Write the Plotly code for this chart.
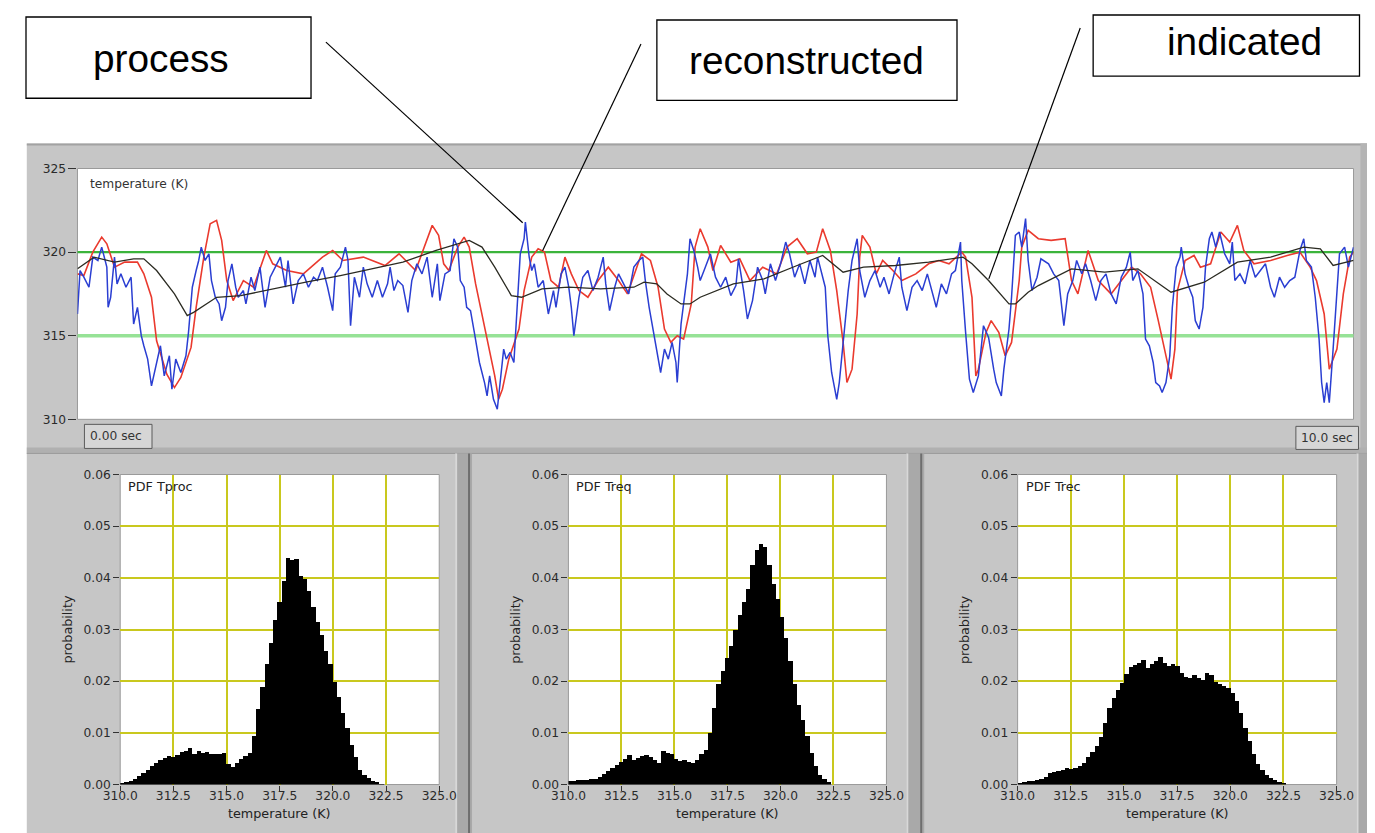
import plotly.graph_objects as go

# ---------------- data ----------------
t_process = [0.00,0.02,0.05,0.09,0.12,0.16,0.19,0.23,0.24,0.26,
             0.29,0.31,0.34,0.38,0.42,0.44,0.47,0.50,0.52,0.55,
             0.58,0.62,0.65,0.68,0.72,0.74,0.77,0.81,0.85,0.87,
             0.90,0.93,0.95,0.97,1.00,1.03,1.05,1.08,1.11,1.13,
             1.16,1.18,1.21,1.24,1.26,1.30,1.32,1.36,1.39,1.43,
             1.47,1.51,1.55,1.59,1.63,1.65,1.69,1.73,1.77,1.81,
             1.85,1.88,1.92,1.96,2.00,2.02,2.06,2.10,2.12,2.14,
             2.17,2.21,2.24,2.27,2.31,2.35,2.39,2.43,2.45,2.48,
             2.51,2.55,2.59,2.62,2.66,2.70,2.74,2.78,2.82,2.84,
             2.88,2.92,2.95,2.98,3.00,3.03,3.05,3.08,3.11,3.13,
             3.15,3.19,3.21,3.23,3.26,3.29,3.31,3.34,3.36,3.39,
             3.42,3.44,3.47,3.50,3.51,3.54,3.56,3.58,3.61,3.65,
             3.69,3.73,3.75,3.79,3.82,3.85,3.87,3.89,3.93,3.96,
             4.00,4.04,4.08,4.12,4.14,4.17,4.21,4.24,4.28,4.32,
             4.36,4.40,4.43,4.45,4.48,4.51,4.55,4.57,4.60,4.63,
             4.66,4.69,4.70,4.73,4.75,4.78,4.80,4.83,4.86,4.88,
             4.92,4.96,5.00,5.04,5.08,5.12,5.16,5.18,5.22,5.25,
             5.29,5.33,5.37,5.39,5.43,5.47,5.51,5.55,5.58,5.62,
             5.66,5.70,5.74,5.78,5.80,5.83,5.86,5.88,5.91,5.93,
             5.95,5.97,6.00,6.04,6.07,6.11,6.13,6.17,6.21,6.25,
             6.29,6.32,6.36,6.40,6.44,6.46,6.50,6.54,6.58,6.62,
             6.66,6.70,6.73,6.77,6.81,6.85,6.88,6.92,6.93,6.96,
             6.99,7.02,7.06,7.10,7.14,7.18,7.20,7.24,7.26,7.30,
             7.32,7.35,7.38,7.40,7.43,7.45,7.48,7.52,7.55,7.61,
             7.65,7.69,7.73,7.76,7.80,7.83,7.87,7.90,7.94,7.98,
             8.02,8.06,8.10,8.14,8.18,8.22,8.25,8.27,8.31,8.35,
             8.37,8.40,8.43,8.45,8.48,8.50,8.53,8.56,8.58,8.61,
             8.64,8.65,8.68,8.71,8.74,8.76,8.79,8.82,8.84,8.87,
             8.89,8.92,8.95,8.99,9.03,9.05,9.07,9.11,9.15,9.19,
             9.23,9.27,9.31,9.35,9.38,9.42,9.46,9.50,9.54,9.58,
             9.61,9.63,9.67,9.70,9.73,9.75,9.77,9.79,9.81,9.84,
             9.87,9.89,9.93,9.96,10.00]
T_process = [316.3,318.9,318.5,317.9,319.7,319.5,320.3,319.1,316.7,317.3,
             319.7,318.1,318.7,317.9,318.5,315.7,316.7,315.0,314.4,313.6,
             312.0,313.4,314.4,312.6,313.8,311.8,313.6,312.8,313.8,315.2,
             317.9,318.9,319.5,320.3,319.5,319.9,318.3,317.3,316.9,315.9,
             316.7,318.3,319.3,317.9,317.3,317.7,316.9,318.5,317.7,319.1,
             316.7,318.5,319.1,319.7,317.9,319.5,316.9,318.3,318.7,317.9,
             318.5,318.3,319.1,317.9,316.5,318.7,319.1,320.3,319.5,315.6,
             318.5,317.3,319.1,318.1,317.3,318.3,317.3,318.1,319.1,317.7,
             318.3,318.0,316.4,318.3,319.3,318.7,319.7,317.3,319.3,317.1,
             318.7,318.9,320.8,320.3,318.3,317.9,316.7,316.5,315.2,314.2,
             313.4,312.2,311.4,312.6,311.2,310.6,312.2,314.2,313.6,314.0,
             313.4,315.9,319.9,320.8,321.8,319.7,318.9,319.3,317.9,318.3,
             316.3,317.7,316.7,318.7,319.1,317.9,316.7,315.0,317.3,318.5,
             318.9,317.7,318.5,319.7,318.1,316.5,317.9,318.7,318.1,317.5,
             319.1,319.5,319.7,318.3,316.7,315.4,313.8,312.8,314.2,313.6,
             314.6,313.4,312.2,315.7,316.9,318.7,320.8,320.1,319.1,318.3,
             319.1,319.9,318.5,317.9,318.5,317.4,318.0,319.6,317.7,316.0,
             317.1,319.1,318.3,317.5,319.3,318.3,319.3,320.6,319.9,318.5,
             319.3,318.1,319.5,318.5,319.7,318.7,317.9,315.0,312.8,312.0,
             311.2,312.2,314.6,317.7,319.5,320.8,318.9,317.3,318.3,318.9,
             317.9,318.5,317.5,318.7,319.7,317.9,316.5,317.9,318.3,317.7,
             318.7,317.5,316.7,318.1,317.5,318.7,318.9,320.6,318.3,315.2,
             312.4,311.6,312.6,315.6,314.9,313.0,312.2,311.4,313.0,315.4,
             317.3,321.0,321.2,320.3,322.0,319.5,317.7,318.5,319.6,319.3,
             318.7,318.3,315.6,317.5,318.3,319.5,318.7,319.3,318.3,317.1,
             318.3,318.7,317.5,316.9,318.5,319.1,320.0,318.3,318.9,317.5,
             314.8,314.4,313.4,312.2,312.0,311.6,312.2,313.8,316.7,319.1,
             319.7,320.3,318.7,317.9,317.3,315.9,315.4,316.7,319.1,320.8,
             321.2,320.3,321.2,319.9,319.3,320.6,318.3,318.7,318.1,319.5,
             318.5,318.9,319.3,317.9,317.3,318.5,317.9,318.3,318.5,320.1,
             320.8,319.5,319.1,317.3,314.8,312.2,311.0,312.2,311.0,314.2,
             317.5,319.9,320.3,319.1,320.3]

t_reconstructed = [0.00,0.05,0.12,0.19,0.23,0.29,0.37,0.47,0.52,0.58,
                   0.62,0.70,0.76,0.81,0.89,0.93,0.99,1.04,1.09,1.13,
                   1.17,1.22,1.30,1.38,1.48,1.53,1.64,1.77,1.92,2.00,
                   2.08,2.24,2.41,2.52,2.65,2.73,2.78,2.83,2.87,2.91,
                   2.98,3.03,3.07,3.12,3.17,3.22,3.27,3.30,3.33,3.38,
                   3.46,3.50,3.56,3.61,3.66,3.71,3.77,3.82,3.87,3.93,
                   4.00,4.08,4.16,4.24,4.31,4.42,4.49,4.55,4.60,4.65,
                   4.70,4.75,4.81,4.84,4.88,4.94,4.98,5.04,5.12,5.19,
                   5.27,5.37,5.48,5.56,5.64,5.72,5.79,5.84,5.90,5.95,
                   6.00,6.03,6.07,6.11,6.13,6.15,6.21,6.26,6.31,6.39,
                   6.46,6.57,6.67,6.75,6.83,6.93,6.96,7.01,7.04,7.06,
                   7.12,7.16,7.22,7.27,7.32,7.38,7.40,7.45,7.53,7.63,
                   7.74,7.79,7.84,7.92,8.00,8.10,8.18,8.26,8.33,8.41,
                   8.47,8.52,8.57,8.60,8.62,8.68,8.75,8.80,8.88,8.96,
                   9.03,9.09,9.14,9.22,9.35,9.48,9.58,9.66,9.71,9.77,
                   9.81,9.87,9.92,9.97,10.00]
T_reconstructed = [318.7,318.6,320.0,320.9,320.5,319.1,319.4,319.4,318.7,317.3,
                   314.7,312.7,311.9,312.5,314.3,316.7,319.7,321.7,321.9,320.7,
                   318.3,317.1,318.3,317.9,320.1,319.3,318.9,318.7,319.7,320.1,
                   319.5,319.7,319.2,319.9,318.9,320.6,321.6,321.0,319.3,318.9,
                   320.3,320.9,320.3,318.1,316.3,314.6,312.6,311.2,311.8,313.6,
                   315.4,317.7,319.7,320.2,320.0,318.3,317.9,319.7,318.7,317.7,
                   317.3,318.3,319.1,318.3,317.5,319.9,319.5,317.9,315.4,314.6,
                   315.0,314.8,316.9,320.3,321.4,320.3,318.9,320.4,319.4,319.6,
                   318.3,319.1,318.7,320.3,320.8,319.9,320.0,321.4,320.1,317.7,
                   314.6,312.2,313.0,316.3,319.7,321.0,320.3,318.7,319.5,318.9,
                   318.3,318.7,319.3,319.5,319.3,320.0,319.7,317.3,312.6,313.0,
                   315.2,315.9,315.2,313.8,314.6,318.3,320.3,321.3,320.8,320.7,
                   320.8,318.3,317.5,320.1,318.3,317.5,318.3,319.1,318.7,317.9,
                   315.9,314.2,312.4,314.2,317.7,319.5,319.8,319.1,319.3,321.2,
                   320.6,321.6,320.1,319.3,319.5,319.8,320.0,319.1,318.3,316.3,
                   313.0,314.2,317.5,319.7,320.0]

t_indicated = [0.00,0.13,0.29,0.44,0.52,0.62,0.76,0.86,0.91,1.01,
               1.09,1.28,1.53,1.79,2.06,2.31,2.55,2.81,3.07,3.17,
               3.27,3.40,3.48,3.64,3.85,4.10,4.36,4.44,4.54,4.62,
               4.73,4.80,4.88,5.14,5.38,5.64,5.84,6.00,6.16,6.41,
               6.67,6.94,7.01,7.14,7.30,7.35,7.45,7.53,7.71,7.79,
               8.05,8.31,8.57,8.83,9.09,9.35,9.61,9.74,9.84,10.00]
T_indicated = [319.0,319.7,319.4,319.6,319.6,318.9,317.5,316.2,316.4,316.9,
               317.3,317.4,317.8,318.2,318.6,319.0,319.4,320.1,320.7,320.3,
               319.1,317.4,317.3,317.8,317.9,317.8,317.9,318.2,318.1,317.5,
               316.9,316.9,317.3,318.1,318.4,319.2,319.8,318.8,319.1,319.2,
               319.4,319.7,319.3,318.3,316.9,316.9,317.6,318.0,318.7,319.0,
               318.8,319.0,317.6,318.2,319.4,319.7,320.3,320.2,319.2,319.5]

limit_high = 320.0
limit_low = 315.0
temp_ticks = [310, 315, 320, 325]

BIN_START = 310.0
BIN_WIDTH = 0.2
pdf_proc = [0.0003,0.0005,0.0008,0.0012,0.0018,0.0024,0.0029,0.0036,0.0042,0.0048,
            0.0052,0.0056,0.0054,0.0058,0.0064,0.0066,0.0071,0.0060,0.0066,0.0062,
            0.0064,0.0060,0.0061,0.0060,0.0062,0.0040,0.0034,0.0043,0.0050,0.0056,
            0.0062,0.0095,0.0147,0.0190,0.0235,0.0275,0.0320,0.0355,0.0395,0.0440,
            0.0436,0.0438,0.0405,0.0398,0.0375,0.0345,0.0315,0.0290,0.0260,0.0235,
            0.0200,0.0170,0.0140,0.0110,0.0078,0.0055,0.0030,0.0019,0.0014,0.0008,
            0.0005,0.0002]
pdf_req = [0.0007,0.0007,0.0010,0.0010,0.0010,0.0011,0.0012,0.0016,0.0022,0.0027,
           0.0033,0.0038,0.0044,0.0050,0.0059,0.0049,0.0052,0.0057,0.0058,0.0055,
           0.0048,0.0043,0.0065,0.0062,0.0060,0.0050,0.0046,0.0048,0.0045,0.0042,
           0.0049,0.0060,0.0068,0.0100,0.0150,0.0195,0.0220,0.0245,0.0270,0.0300,
           0.0330,0.0355,0.0380,0.0425,0.0455,0.0467,0.0460,0.0425,0.0390,0.0360,
           0.0325,0.0285,0.0240,0.0195,0.0155,0.0125,0.0095,0.0062,0.0036,0.0020,
           0.0012,0.0005]
pdf_rec = [0.0003,0.0005,0.0007,0.0008,0.0010,0.0012,0.0016,0.0023,0.0026,0.0028,
           0.0030,0.0033,0.0031,0.0032,0.0036,0.0042,0.0054,0.0064,0.0076,0.0092,
           0.0120,0.0150,0.0168,0.0184,0.0197,0.0215,0.0228,0.0232,0.0236,0.0242,
           0.0227,0.0234,0.0240,0.0248,0.0236,0.0230,0.0234,0.0230,0.0216,0.0210,
           0.0207,0.0212,0.0208,0.0204,0.0217,0.0212,0.0200,0.0195,0.0192,0.0187,
           0.0178,0.0162,0.0140,0.0110,0.0085,0.0060,0.0040,0.0030,0.0020,0.0014,
           0.0009,0.0006,0.0003]
hist_titles = ["PDF Tproc", "PDF Treq", "PDF Trec"]

# ---------------- layout helpers ----------------
# The photographed page shows the figure slightly shrunk and offset, so the
# reference pixel positions are mapped back through that observed transform.
S = 0.98
OX, OY = 21.2, 15.0
W, H = 1381, 835
def px(x):
    return min(max(((x - OX) / S) / W, 0.0), 1.0)
def py(y):
    return min(max(1 - ((y - OY) / S) / H, 0.0), 1.0)
def fs(size):
    return size / S

UI_FONT = "DejaVu Sans"
CALLOUT_FONT = "Liberation Sans"
GRAY = "#c6c6c6"
DARK_GRAY = "#a9a9a9"
GRID_Y = "#c9c81e"

fig = go.Figure()

# top time plot
fig.add_trace(go.Scatter(x=t_reconstructed, y=T_reconstructed, mode="lines",
                         line=dict(color="#ea3a2e", width=1.6), xaxis="x", yaxis="y",
                         showlegend=False, hoverinfo="skip"))
fig.add_trace(go.Scatter(x=t_process, y=T_process, mode="lines",
                         line=dict(color="#2a3ed2", width=1.5), xaxis="x", yaxis="y",
                         showlegend=False, hoverinfo="skip"))
fig.add_trace(go.Scatter(x=t_indicated, y=T_indicated, mode="lines",
                         line=dict(color="#2b2b22", width=1.3), xaxis="x", yaxis="y",
                         showlegend=False, hoverinfo="skip"))

# histograms
for i, pdf in enumerate([pdf_proc, pdf_req, pdf_rec]):
    centers = [BIN_START + BIN_WIDTH * (k + 0.5) for k in range(len(pdf))]
    fig.add_trace(go.Bar(x=centers, y=pdf, width=BIN_WIDTH,
                         marker=dict(color="black", line=dict(width=0)),
                         xaxis=f"x{i+2}", yaxis=f"y{i+2}", showlegend=False,
                         hoverinfo="skip"))

HIST_PX = [[116, 437], [567, 887], [1019, 1340]]
top_x = [px(73), px(1357)]
top_y = [py(418), py(168)]
hist_x = [[px(a), px(b)] for a, b in HIST_PX]
hist_y = [py(782), py(473)]

tickfont = dict(family=UI_FONT, size=fs(12), color="#2a2a2a")

layout = dict(
    width=W, height=H,
    margin=dict(l=0, r=0, t=0, b=0),
    paper_bgcolor="white", plot_bgcolor="white",
    bargap=0, showlegend=False,
    font=dict(family=UI_FONT, color="#222"),
    xaxis=dict(domain=top_x, range=[0, 10], showticklabels=False, ticks="",
               showgrid=False, zeroline=False, showline=False, fixedrange=True),
    yaxis=dict(domain=top_y, range=[310, 325], tickvals=temp_ticks, ticks="outside",
               ticklen=8, tickcolor="#333", tickwidth=1, showgrid=False, zeroline=False,
               showline=False, tickfont=tickfont, anchor="x"),
)
for i in range(3):
    n = i + 2
    layout[f"xaxis{n}"] = dict(domain=hist_x[i], range=[310, 325], tick0=310, dtick=2.5,
                               tickformat=".1f", ticks="outside", ticklen=5,
                               ticklabelstandoff=-5,
                               tickcolor="#333", showgrid=True, gridcolor=GRID_Y,
                               gridwidth=1.5, zeroline=False, showline=False,
                               tickfont=tickfont, anchor=f"y{n}")
    layout[f"yaxis{n}"] = dict(domain=hist_y, range=[0, 0.06], tick0=0, dtick=0.01,
                               tickformat=".2f", ticks="outside", ticklen=6,
                               tickcolor="#333", showgrid=True, gridcolor=GRID_Y,
                               gridwidth=1.5, zeroline=False, showline=False,
                               tickfont=tickfont, anchor=f"x{n}")
fig.update_layout(**layout)

shapes = []
def rect(x0, y0, x1, y1, fill, line_color=None, lw=0, layer="below"):
    shapes.append(dict(type="rect", xref="paper", yref="paper",
                       x0=px(x0), x1=px(x1), y0=py(y1), y1=py(y0),
                       fillcolor=fill, layer=layer,
                       line=dict(width=lw, color=line_color or fill)))
def vline(x, y0, y1, color, w, layer="below"):
    shapes.append(dict(type="line", xref="paper", yref="paper",
                       x0=px(x), x1=px(x), y0=py(y0), y1=py(y1),
                       line=dict(color=color, width=w), layer=layer))
def hline(y, x0, x1, color, w, layer="below"):
    shapes.append(dict(type="line", xref="paper", yref="paper",
                       x0=px(x0), x1=px(x1), y0=py(y), y1=py(y),
                       line=dict(color=color, width=w), layer=layer))

# gray instrument panels
rect(22, 143, 1375, 833, GRAY)
hline(144, 22, 1375, "#a2a2a2", 2)
rect(1364, 143, 1375, 448, "#b4b4b4")
rect(22, 446, 1375, 452, "#b0b0b0")
hline(452, 22, 1375, "#9c9c9c", 1)
# dividers between bottom panels
for x0, x1 in [(453, 470), (907, 925), (1360, 1375)]:
    rect(x0, 452, x1, 833, DARK_GRAY)
    vline(x0 + 1, 452, 833, "#d8d8d8", 2)
    vline(x1 - 3, 452, 833, "#6e6e6e", 2)

# white plot areas
for xs, ys in [(top_x, top_y)] + [(hx, hist_y) for hx in hist_x]:
    shapes.append(dict(type="rect", xref="paper", yref="paper",
                       x0=xs[0], x1=xs[1], y0=ys[0], y1=ys[1],
                       fillcolor="white", layer="below",
                       line=dict(width=1, color="#9a9a9a")))

# limit lines
shapes.append(dict(type="line", xref="x domain", yref="y", x0=0, x1=1,
                   y0=limit_high, y1=limit_high, layer="below",
                   line=dict(color="#3bb43b", width=2.2)))
shapes.append(dict(type="line", xref="x domain", yref="y", x0=0, x1=1,
                   y0=limit_low, y1=limit_low, layer="below",
                   line=dict(color="#96e296", width=3.5)))

# time boxes
rect(80, 423, 148, 447, "#d6d6d6", "#5a5a5a", 1)
rect(1299, 425, 1362, 448, "#d6d6d6", "#5a5a5a", 1)

# callout boxes
rect(8, 17, 308, 98, "white", "black", 1.3, layer="above")
rect(656, 20, 958, 100, "white", "black", 1.3, layer="above")
rect(1095, 6, 1363, 76, "white", "black", 1.3, layer="above")
for (x0, y0, x1, y1) in [(323, 42, 521, 222), (640, 44, 541, 250), (1082, 28, 990, 278)]:
    shapes.append(dict(type="line", xref="paper", yref="paper",
                       x0=px(x0), y0=py(y0), x1=px(x1), y1=py(y1),
                       line=dict(color="black", width=1.2), layer="above"))

fig.update_layout(shapes=shapes)

ann = []
def text(x, y, s, size=12, xanchor="left", angle=0, color="#222", family=UI_FONT):
    ann.append(dict(x=px(x), y=py(y), xref="paper", yref="paper", text=s,
                    showarrow=False, xanchor=xanchor, yanchor="middle",
                    textangle=angle, font=dict(family=family, size=fs(size), color=color)))

text(157, 58, "process", size=38, xanchor="center", color="black", family=CALLOUT_FONT)
text(807, 60, "reconstructed", size=38, xanchor="center", color="black", family=CALLOUT_FONT)
text(1247, 41, "indicated", size=38, xanchor="center", color="black", family=CALLOUT_FONT)

text(84, 183, "temperature (K)", size=12, color="#333")
text(84, 435, "0.00 sec", size=12, color="#333")
text(1302, 437, "10.0 sec", size=12, color="#333")

for i, (left, right) in enumerate(HIST_PX):
    text(left + 6, 485, hist_titles[i], size=12.5)
    text((left + right) / 2, 811, "temperature (K)", size=12.5, xanchor="center")
    text(left - 54, 628, "probability", size=12.5, xanchor="center", angle=-90)

fig.update_layout(annotations=ann)

fig.write_html("out.html")
